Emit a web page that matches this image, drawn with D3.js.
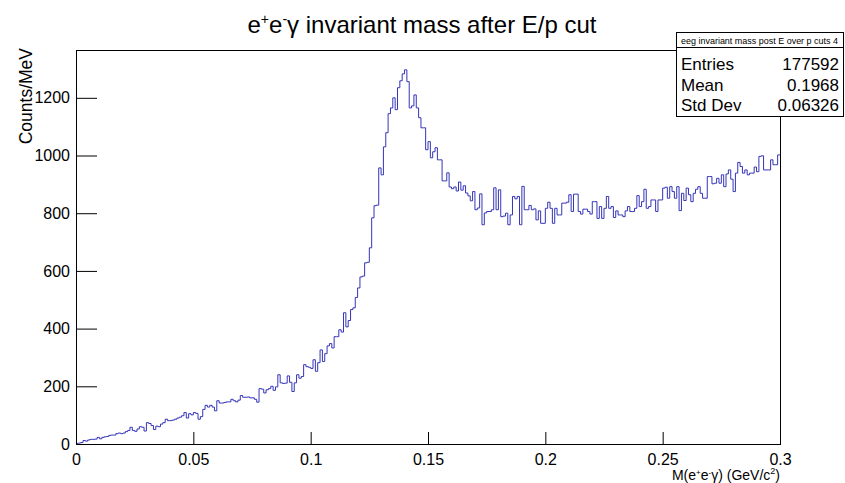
<!DOCTYPE html>
<html>
<head>
<meta charset="utf-8">
<script src="https://cdn.jsdelivr.net/npm/d3@7"></script>
<style>
  body { margin: 0; background: #fff; }
  svg { display: block; font-family: "Liberation Sans", Arial, Helvetica, sans-serif; }
</style>
</head>
<body>
<main></main>
<script>
var w = 845;
var h = 483;

// frame of the pad
var frameL = 76, frameR = 780, frameT = 50, frameB = 444;

// histogram: 300 bins of 1 MeV, 0 - 0.3 GeV/c^2
var xRange = [0, 0.3];
var counts = [
  2, 3, 5, 12, 10, 14, 16, 16, 17, 23,
  18, 23, 25, 26, 30, 31, 31, 36, 38, 36,
  38, 43, 47, 58, 47, 44, 52, 60, 58, 45,
  74, 71, 64, 50, 62, 60, 69, 74, 86, 81,
  81, 83, 86, 90, 93, 98, 109, 90, 105, 101,
  109, 106, 86, 95, 120, 134, 128, 134, 128, 115,
  150, 142, 142, 144, 146, 146, 155, 150, 146, 152,
  168, 162, 162, 163, 160, 160, 155, 145, 192, 190,
  177, 188, 192, 200, 186, 198, 240, 212, 210, 211,
  236, 214, 182, 212, 240, 228, 234, 275, 268, 266,
  262, 292, 252, 282, 326, 286, 313, 340, 348, 333,
  372, 372, 396, 388, 455, 406, 428, 466, 472, 508,
  541, 579, 582, 628, 630, 680, 784, 826, 828, 957,
  933, 1030, 1079, 1145, 1165, 1200, 1159, 1235, 1259, 1283,
  1297, 1256, 1165, 1172, 1210, 1165, 1131, 1096, 1096, 1020,
  1048, 992, 1013, 1027, 985, 985, 912, 912, 940, 891,
  885, 891, 877, 908, 880, 895, 870, 860, 843, 875,
  812, 818, 867, 760, 801, 806, 806, 812, 888, 812,
  881, 788, 790, 800, 760, 794, 858, 850, 858, 760,
  893, 812, 812, 827, 812, 815, 777, 808, 765, 765,
  817, 838, 817, 765, 817, 794, 794, 835, 835, 838,
  864, 806, 866, 866, 806, 797, 814, 814, 806, 797,
  840, 840, 782, 823, 782, 817, 858, 817, 823, 785,
  808, 794, 794, 788, 808, 823, 806, 806, 817, 861,
  823, 840, 883, 817, 823, 846, 846, 806, 846, 846,
  887, 890, 852, 892, 875, 852, 892, 809, 869, 844,
  887, 864, 840, 869, 883, 892, 869, 852, 852, 927,
  927, 902, 904, 921, 904, 933, 892, 936, 950, 918,
  875, 939, 976, 962, 939, 950, 933, 939, 939, 960,
  944, 997, 999, 950, 950, 950, 985, 968, 968, 1002
];

// axis ticks
var xTicks = [0, 0.05, 0.1, 0.15, 0.2, 0.25, 0.3];
var xTickLabels = ["0", "0.05", "0.1", "0.15", "0.2", "0.25", "0.3"];
var xMinorStep = 0.01;
var yTicks = [0, 200, 400, 600, 800, 1000, 1200];
var yTickLabels = ["0", "200", "400", "600", "800", "1000", "1200"];
var yMinorStep = 50;

// stats box
var statsTitle = "eeg invariant mass post E over p cuts 4";
var statsNames = ["Entries", "Mean", "Std Dev"];
var statsValues = ["177592", "0.1968", "0.06326"];

var svg = d3.select("main").append("svg").attr("width", w).attr("height", h);
svg.append("rect").attr("width", w).attr("height", h).attr("fill", "#fff");

// SCALES (ROOT puts the max at 1.05 * highest bin)
var yMax = d3.max(counts) * 1.053;
var xScale = d3.scaleLinear().domain(xRange).range([frameL, frameR]);
var yScale = d3.scaleLinear().domain([0, yMax]).range([frameB, frameT]);

var binWidth = (xRange[1] - xRange[0]) / counts.length;
var steps = counts.map(function (c, i) { return [xRange[0] + i * binWidth, c]; });
steps.push([xRange[1], counts[counts.length - 1]]);

// minor tick values
var xMinor = d3.range(0, Math.round((xRange[1] - xRange[0]) / xMinorStep) + 1)
  .map(function (i) { return +(i * xMinorStep).toFixed(3); })
  .filter(function (v) { return xTicks.indexOf(v) < 0; });
var yMinor = d3.range(0, yMax, yMinorStep)
  .filter(function (v) { return yTicks.indexOf(v) < 0; });

// HISTOGRAM
var line = d3.line()
  .x(function (d) { return xScale(d[0]); })
  .y(function (d) { return yScale(d[1]); })
  .curve(d3.curveStepAfter);

svg.append("path")
  .datum(steps)
  .attr("d", line)
  .attr("fill", "none")
  .attr("stroke", "#3434b8")
  .attr("stroke-width", 1);

// AXES (ROOT style ticks, pointing into the frame)
var xAxis = d3.axisBottom(xScale)
  .tickValues(xTicks)
  .tickFormat(function (d, i) { return xTickLabels[i]; })
  .tickSizeInner(-12).tickSizeOuter(0).tickPadding(10);
var xAxisMinor = d3.axisBottom(xScale)
  .tickValues(xMinor).tickFormat("")
  .tickSizeInner(-6).tickSizeOuter(0);
var yAxis = d3.axisLeft(yScale)
  .tickValues(yTicks)
  .tickFormat(function (d, i) { return yTickLabels[i]; })
  .tickSizeInner(-21).tickSizeOuter(0).tickPadding(6);
var yAxisMinor = d3.axisLeft(yScale)
  .tickValues(yMinor).tickFormat("")
  .tickSizeInner(-10).tickSizeOuter(0);

var gx = svg.append("g").attr("transform", "translate(0," + frameB + ")");
gx.call(xAxisMinor);
gx.call(xAxis);
var gy = svg.append("g").attr("transform", "translate(" + frameL + ",0)");
gy.call(yAxisMinor);
gy.call(yAxis);

svg.selectAll(".domain").remove();
svg.selectAll(".tick line").attr("stroke", "#000").attr("stroke-width", 1);
svg.selectAll(".tick text")
  .attr("font-size", "16px")
  .attr("font-family", "'Liberation Sans', Arial, sans-serif")
  .attr("fill", "#000");
gx.selectAll(".tick text").attr("dy", "0.71em");

// FRAME
svg.append("rect")
  .attr("x", frameL + 0.5).attr("y", frameT + 0.5)
  .attr("width", frameR - frameL).attr("height", frameB - frameT)
  .attr("fill", "none").attr("stroke", "#000").attr("stroke-width", 1);

// helper for e+e-gamma with superscripts
function eeg(sel, size) {
  var s = Math.round(size * 0.6);
  sel.append("tspan").text("e");
  sel.append("tspan").attr("font-size", s + "px").attr("dy", -size * 0.38).text("+");
  sel.append("tspan").attr("dy", size * 0.38).text("e");
  sel.append("tspan").attr("font-size", s + "px").attr("dy", -size * 0.38).text("-");
  sel.append("tspan").attr("dy", size * 0.38).text("\u03b3");
}

// TITLE
var title = svg.append("text")
  .attr("x", 422).attr("y", 33)
  .attr("text-anchor", "middle")
  .attr("font-size", "24px")
  .attr("fill", "#000");
eeg(title, 24);
title.append("tspan").text(" invariant mass after E/p cut");

// X AXIS TITLE
var xt = svg.append("text")
  .attr("x", frameR).attr("y", 480)
  .attr("text-anchor", "end")
  .attr("font-size", "14px")
  .attr("fill", "#000");
xt.append("tspan").text("M(");
eeg(xt, 14);
xt.append("tspan").text(") (GeV/c");
xt.append("tspan").attr("font-size", "9px").attr("dy", -6).text("2");
xt.append("tspan").attr("dy", 6).text(")");

// Y AXIS TITLE
svg.append("text")
  .attr("transform", "translate(32," + (frameT - 2) + ") rotate(-90)")
  .attr("text-anchor", "end")
  .attr("font-size", "17.5px")
  .attr("fill", "#000")
  .text("Counts/MeV");

// STATS BOX
var sx = 676, sy = 32, sw = 167, sh = 84, sHead = 15, rowH = 20.5;
var stats = svg.append("g");
stats.append("rect")
  .attr("x", sx + 0.5).attr("y", sy + 0.5)
  .attr("width", sw).attr("height", sh)
  .attr("fill", "#fff").attr("stroke", "#000");
stats.append("line")
  .attr("x1", sx).attr("x2", sx + sw)
  .attr("y1", sy + sHead + 0.5).attr("y2", sy + sHead + 0.5)
  .attr("stroke", "#000");
stats.append("text")
  .attr("x", sx + sw / 2).attr("y", sy + 11.5)
  .attr("text-anchor", "middle")
  .attr("font-size", "9.5px")
  .attr("textLength", sw - 10)
  .attr("lengthAdjust", "spacingAndGlyphs")
  .text(statsTitle);
statsNames.forEach(function (n, i) {
  var by = sy + sHead + 23 + i * rowH;
  stats.append("text").attr("x", sx + 5).attr("y", by)
    .attr("font-size", "17px").text(n);
  stats.append("text").attr("x", sx + sw - 4).attr("y", by)
    .attr("text-anchor", "end").attr("font-size", "17px").text(statsValues[i]);
});
</script>
</body>
</html>
